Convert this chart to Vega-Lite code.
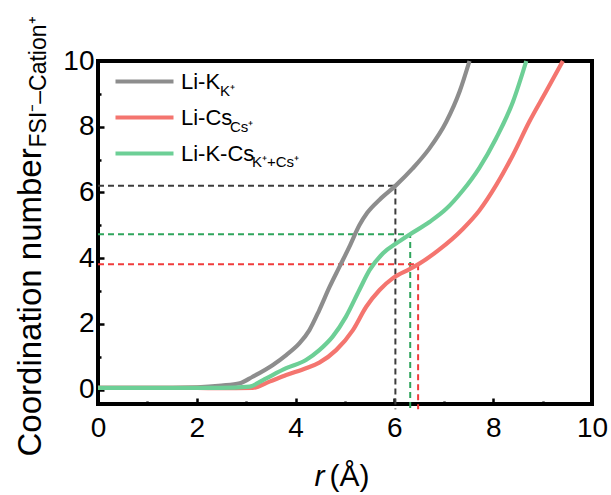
{
  "$schema": "https://vega.github.io/schema/vega-lite/v6.json",
  "autosize": "none",
  "width": 494,
  "height": 343,
  "padding": {"left": 98, "top": 61, "right": 19, "bottom": 91},
  "background": "white",
  "config": {
    "font": "Liberation Sans",
    "view": {"stroke": "black", "strokeWidth": 4},
    "axis": {"labelFont": "Liberation Sans", "titleFont": "Liberation Sans", "labelColor": "black", "titleColor": "black", "titleFontWeight": "normal"},
    "legend": {"labelFont": "Liberation Sans", "labelColor": "black", "orient": "none", "title": null, "padding": 0},
    "line": {"strokeWidth": 4.2, "interpolate": "monotone", "clip": true}
  },
  "datasets": {
    "curves": [
      {"s": "Li-K", "x": 0, "y": 0.05}, {"s": "Li-K", "x": 1, "y": 0.05}, {"s": "Li-K", "x": 2, "y": 0.07},
      {"s": "Li-K", "x": 2.5, "y": 0.12}, {"s": "Li-K", "x": 2.87, "y": 0.19}, {"s": "Li-K", "x": 3.13, "y": 0.39},
      {"s": "Li-K", "x": 3.54, "y": 0.75}, {"s": "Li-K", "x": 3.81, "y": 1.05}, {"s": "Li-K", "x": 4.08, "y": 1.41},
      {"s": "Li-K", "x": 4.28, "y": 1.81}, {"s": "Li-K", "x": 4.48, "y": 2.42}, {"s": "Li-K", "x": 4.69, "y": 3.13},
      {"s": "Li-K", "x": 4.89, "y": 3.74}, {"s": "Li-K", "x": 5.09, "y": 4.35}, {"s": "Li-K", "x": 5.29, "y": 5.0},
      {"s": "Li-K", "x": 5.45, "y": 5.38}, {"s": "Li-K", "x": 5.7, "y": 5.78}, {"s": "Li-K", "x": 6.02, "y": 6.2},
      {"s": "Li-K", "x": 6.37, "y": 6.73}, {"s": "Li-K", "x": 6.71, "y": 7.34}, {"s": "Li-K", "x": 7.05, "y": 8.15},
      {"s": "Li-K", "x": 7.32, "y": 9.07}, {"s": "Li-K", "x": 7.52, "y": 10.0},
      {"s": "Li-Cs", "x": 0, "y": 0.05}, {"s": "Li-Cs", "x": 2, "y": 0.05}, {"s": "Li-Cs", "x": 2.46, "y": 0.04},
      {"s": "Li-Cs", "x": 3.13, "y": 0.05}, {"s": "Li-Cs", "x": 3.47, "y": 0.24}, {"s": "Li-Cs", "x": 3.81, "y": 0.44},
      {"s": "Li-Cs", "x": 4.21, "y": 0.65}, {"s": "Li-Cs", "x": 4.48, "y": 0.82}, {"s": "Li-Cs", "x": 4.82, "y": 1.2},
      {"s": "Li-Cs", "x": 5.16, "y": 1.81}, {"s": "Li-Cs", "x": 5.43, "y": 2.52}, {"s": "Li-Cs", "x": 5.7, "y": 3.03},
      {"s": "Li-Cs", "x": 5.97, "y": 3.39}, {"s": "Li-Cs", "x": 6.3, "y": 3.66}, {"s": "Li-Cs", "x": 6.48, "y": 3.81},
      {"s": "Li-Cs", "x": 6.9, "y": 4.25}, {"s": "Li-Cs", "x": 7.38, "y": 4.88}, {"s": "Li-Cs", "x": 7.72, "y": 5.45},
      {"s": "Li-Cs", "x": 8.06, "y": 6.22}, {"s": "Li-Cs", "x": 8.4, "y": 7.14}, {"s": "Li-Cs", "x": 8.73, "y": 8.15},
      {"s": "Li-Cs", "x": 9.07, "y": 9.07}, {"s": "Li-Cs", "x": 9.41, "y": 10.0},
      {"s": "Li-K-Cs", "x": 0, "y": 0.05}, {"s": "Li-K-Cs", "x": 1, "y": 0.05}, {"s": "Li-K-Cs", "x": 2, "y": 0.05},
      {"s": "Li-K-Cs", "x": 2.46, "y": 0.05}, {"s": "Li-K-Cs", "x": 3.07, "y": 0.09}, {"s": "Li-K-Cs", "x": 3.34, "y": 0.29},
      {"s": "Li-K-Cs", "x": 3.81, "y": 0.65}, {"s": "Li-K-Cs", "x": 4.21, "y": 0.9}, {"s": "Li-K-Cs", "x": 4.48, "y": 1.2},
      {"s": "Li-K-Cs", "x": 4.75, "y": 1.61}, {"s": "Li-K-Cs", "x": 5.02, "y": 2.22}, {"s": "Li-K-Cs", "x": 5.29, "y": 3.03},
      {"s": "Li-K-Cs", "x": 5.5, "y": 3.64}, {"s": "Li-K-Cs", "x": 5.77, "y": 4.15}, {"s": "Li-K-Cs", "x": 6.04, "y": 4.45},
      {"s": "Li-K-Cs", "x": 6.31, "y": 4.72}, {"s": "Li-K-Cs", "x": 6.71, "y": 5.1}, {"s": "Li-K-Cs", "x": 7.05, "y": 5.5},
      {"s": "Li-K-Cs", "x": 7.38, "y": 6.05}, {"s": "Li-K-Cs", "x": 7.72, "y": 6.75}, {"s": "Li-K-Cs", "x": 8.06, "y": 7.65},
      {"s": "Li-K-Cs", "x": 8.4, "y": 8.76}, {"s": "Li-K-Cs", "x": 8.67, "y": 10.0}
    ],
    "guides": [
      {"g": "K", "o": 0, "x": 0, "y": 6.2}, {"g": "K", "o": 1, "x": 6.02, "y": 6.2}, {"g": "K", "o": 2, "x": 6.02, "y": -0.6},
      {"g": "KCs", "o": 0, "x": 0, "y": 4.73}, {"g": "KCs", "o": 1, "x": 6.32, "y": 4.73}, {"g": "KCs", "o": 2, "x": 6.32, "y": -0.6},
      {"g": "Cs", "o": 0, "x": 0, "y": 3.81}, {"g": "Cs", "o": 1, "x": 6.48, "y": 3.81}, {"g": "Cs", "o": 2, "x": 6.48, "y": -0.6}
    ],
    "subs": [
      {"s": "Li-K", "sub": "K⁺"}, {"s": "Li-Cs", "sub": "Cs⁺"}, {"s": "Li-K-Cs", "sub": "K⁺+Cs⁺"}
    ]
  },
  "layer": [
    {
      "data": {"name": "guides"},
      "mark": {"type": "line", "strokeDash": [6, 4], "strokeWidth": 2, "interpolate": "linear"},
      "encoding": {
        "x": {"field": "x", "type": "quantitative", "scale": {"domain": [0, 10], "nice": false, "zero": false}, "axis": null},
        "y": {"field": "y", "type": "quantitative", "scale": {"domain": [-0.44, 10], "nice": false, "zero": false}, "axis": null},
        "stroke": {"field": "g", "type": "nominal", "scale": {"domain": ["K", "KCs", "Cs"], "range": ["#3c3c3c", "#2fa55c", "#f03c3c"]}, "legend": null},
        "order": {"field": "o", "type": "quantitative"}
      }
    },
    {
      "data": {"name": "curves"},
      "transform": [{"filter": "datum.s === 'Li-K'"}],
      "mark": "line",
      "encoding": {
        "x": {"field": "x", "type": "quantitative",
          "axis": {"values": [0, 1, 2, 3, 4, 5, 6, 7, 8, 9, 10],
            "labelExpr": "datum.value % 2 === 0 ? datum.label : ''",
            "tickSize": {"condition": {"test": "datum.value % 2 === 1", "value": -3}, "value": -6},
            "tickWidth": 2.5, "tickColor": "black", "domain": false, "grid": false,
            "labelFontSize": 28, "labelPadding": 16, "labelFlush": false, "labelOverlap": false, "labelBound": false,
            "title": "(Å)", "titleFontSize": 30, "titleX": 231, "titleY": 81, "titleAlign": "left", "titleBaseline": "alphabetic"}},
        "y": {"field": "y", "type": "quantitative",
          "axis": {"values": [0, 1, 2, 3, 4, 5, 6, 7, 8, 9, 10],
            "labelExpr": "datum.value % 2 === 0 ? datum.label : ''",
            "tickSize": {"condition": {"test": "datum.value % 2 === 1", "value": -3}, "value": -6},
            "tickWidth": 2.5, "tickColor": "black", "domain": false, "grid": false,
            "labelFontSize": 28, "labelPadding": 10, "labelFlush": false, "labelOverlap": false, "labelBound": false,
            "title": "Coordination number", "titleFontSize": 33, "titleAngle": 270, "titleX": -58, "titleY": 395, "titleAlign": "left", "titleBaseline": "alphabetic"}},
        "color": {"field": "s", "type": "nominal", "scale": {"domain": ["Li-K"], "range": ["#8d8d8d"]},
          "legend": {"legendX": 15, "legendY": -11, "symbolType": "stroke", "symbolSize": 3364, "symbolStrokeWidth": 4.5, "labelFontSize": 22, "labelOffset": 5}}
      }
    },
    {
      "data": {"name": "curves"},
      "transform": [{"filter": "datum.s === 'Li-Cs'"}],
      "mark": "line",
      "encoding": {
        "x": {"field": "x", "type": "quantitative", "axis": null},
        "y": {"field": "y", "type": "quantitative", "axis": null},
        "color": {"field": "s", "type": "nominal", "scale": {"domain": ["Li-Cs"], "range": ["#f4756f"]},
          "legend": {"legendX": 15, "legendY": 25, "symbolType": "stroke", "symbolSize": 3364, "symbolStrokeWidth": 4.5, "labelFontSize": 22, "labelOffset": 5}}
      }
    },
    {
      "data": {"name": "curves"},
      "transform": [{"filter": "datum.s === 'Li-K-Cs'"}],
      "mark": "line",
      "encoding": {
        "x": {"field": "x", "type": "quantitative", "axis": null},
        "y": {"field": "y", "type": "quantitative", "axis": null},
        "color": {"field": "s", "type": "nominal", "scale": {"domain": ["Li-K-Cs"], "range": ["#6dcf96"]},
          "legend": {"legendX": 15, "legendY": 61, "symbolType": "stroke", "symbolSize": 3364, "symbolStrokeWidth": 4.5, "labelFontSize": 22, "labelOffset": 5}}
      }
    },
    {
      "data": {"name": "subs"},
      "transform": [{"filter": "datum.s === 'Li-K'"}],
      "mark": {"type": "point", "opacity": 0},
      "encoding": {
        "shape": {"field": "sub", "type": "nominal", "scale": {"domain": ["K⁺"], "range": ["circle"]},
          "legend": {"legendX": 107, "legendY": 22, "symbolOpacity": 0, "symbolSize": 1, "labelFontSize": 15, "labelOffset": 0}}
      }
    },
    {
      "data": {"name": "subs"},
      "transform": [{"filter": "datum.s === 'Li-Cs'"}],
      "mark": {"type": "point", "opacity": 0},
      "encoding": {
        "shape": {"field": "sub", "type": "nominal", "scale": {"domain": ["Cs⁺"], "range": ["circle"]},
          "legend": {"legendX": 117, "legendY": 58, "symbolOpacity": 0, "symbolSize": 1, "labelFontSize": 15, "labelOffset": 0}}
      }
    },
    {
      "data": {"name": "subs"},
      "transform": [{"filter": "datum.s === 'Li-K-Cs'"}],
      "mark": {"type": "point", "opacity": 0},
      "encoding": {
        "shape": {"field": "sub", "type": "nominal", "scale": {"domain": ["K⁺+Cs⁺"], "range": ["circle"]},
          "legend": {"legendX": 139, "legendY": 93, "symbolOpacity": 0, "symbolSize": 1, "labelFontSize": 15, "labelOffset": 0}}
      }
    },
    {
      "data": {"name": "subs"},
      "mark": {"type": "point", "opacity": 0},
      "encoding": {
        "x": {"datum": 5, "type": "quantitative",
          "axis": {"orient": "top", "domain": false, "ticks": false, "labels": false, "grid": false,
            "title": "r", "titleFontStyle": "italic", "titleFontSize": 30, "titleX": 216, "titleY": 424, "titleAlign": "left", "titleBaseline": "alphabetic"}},
        "y": {"datum": 5, "type": "quantitative",
          "axis": {"orient": "right", "domain": false, "ticks": false, "labels": false, "grid": false,
            "title": "FSI⁻–Cation⁺", "titleFontSize": 23, "titleAngle": 270, "titleX": -547, "titleY": 86, "titleAlign": "left", "titleBaseline": "alphabetic"}}
      }
    }
  ],
  "resolve": {
    "axis": {"x": "independent", "y": "independent"},
    "scale": {"color": "independent", "shape": "independent"},
    "legend": {"color": "independent", "shape": "independent"}
  }
}
